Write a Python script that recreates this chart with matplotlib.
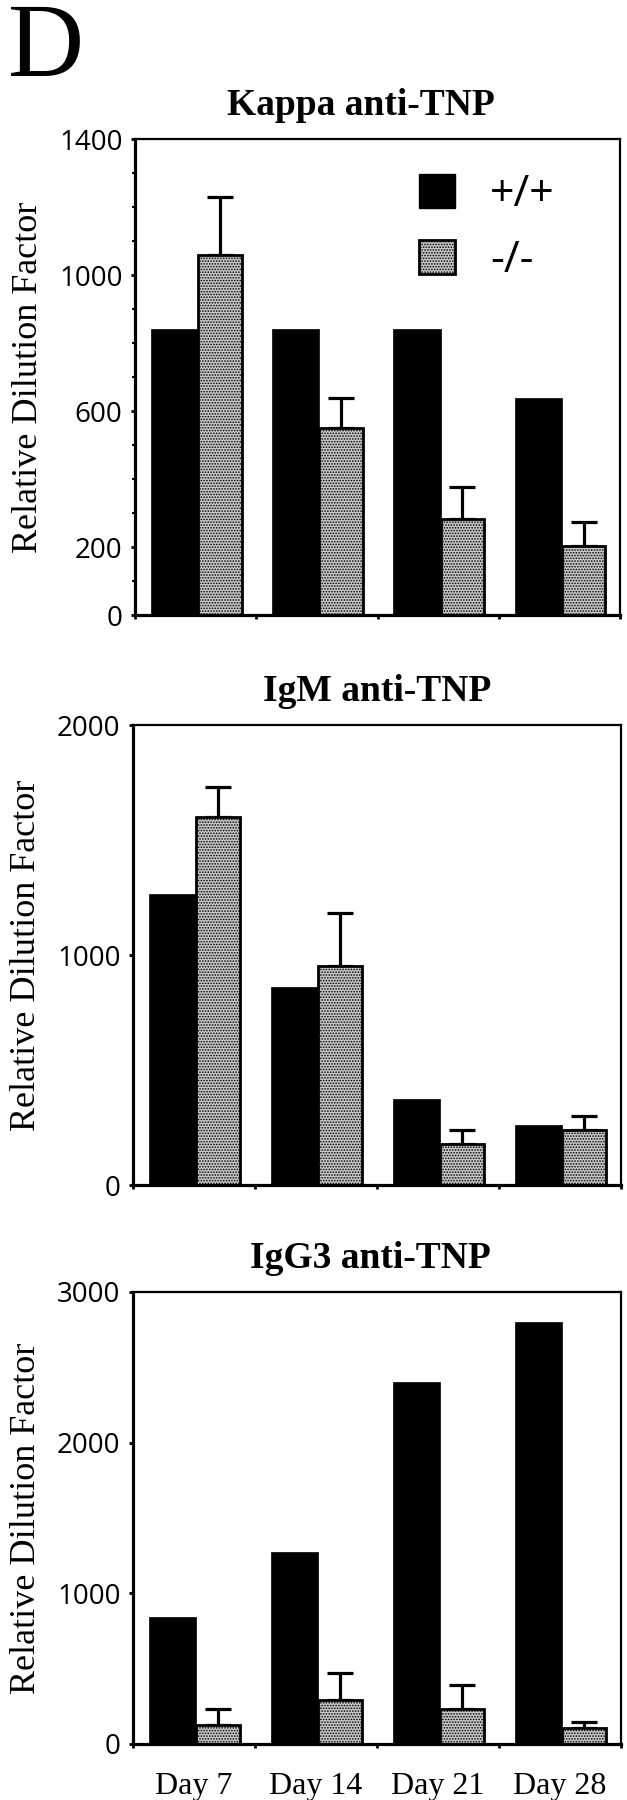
import matplotlib
matplotlib.use("Agg")
import matplotlib.pyplot as plt
from matplotlib.patches import Patch
from matplotlib.ticker import MultipleLocator, FixedLocator
import numpy as np

# ---------------- data ----------------
days = ["Day 7", "Day 14", "Day 21", "Day 28"]
genotypes = ["+/+", "-/-"]

titles = ["Kappa anti-TNP", "IgM anti-TNP", "IgG3 anti-TNP"]

kappa_wt = [840, 840, 840, 637]
kappa_ko = [1058, 550, 282, 204]
kappa_ko_err = [171, 87, 94, 69]

igm_wt = [1265, 860, 372, 262]
igm_ko = [1600, 952, 180, 240]
igm_ko_err = [130, 231, 57, 58]

igg3_wt = [845, 1272, 2400, 2800]
igg3_ko = [128, 292, 232, 108]
igg3_ko_err = [107, 178, 158, 37]

ylims = [1400, 2000, 3000]
yticks_major = [[0, 200, 600, 1000, 1400], [0, 1000, 2000], [0, 1000, 2000, 3000]]
yticks_minor = [100, None, None]

# ---------------- style ----------------
SERIF = ["Liberation Serif", "DejaVu Serif"]
SANS = ["Open Sans", "DejaVu Sans"]
plt.rcParams["font.family"] = SANS
plt.rcParams["hatch.linewidth"] = 0.8
plt.rcParams["hatch.color"] = "black"
KO_FACE = "#c9c9c9"
KO_HATCH = "......"

W, H = 627, 1800
fig = plt.figure(figsize=(W / 100, H / 100), dpi=100)

# axes boxes in pixels: left, top, right, bottom
boxes = [(135, 139, 620, 615), (133, 725, 621, 1185), (133, 1292, 621, 1744)]
title_x = [0.466, 0.5, 0.487]

panels = [
    (kappa_wt, kappa_ko, kappa_ko_err),
    (igm_wt, igm_ko, igm_ko_err),
    (igg3_wt, igg3_ko, igg3_ko_err),
]

x = np.arange(len(days))
wt_off, wt_w = 0.13, 0.39
ko_off, ko_w = 0.52, 0.36

for k, ((wt, ko, err), (l, t, r, b)) in enumerate(zip(panels, boxes)):
    ax = fig.add_axes([l / W, 1 - b / H, (r - l) / W, (b - t) / H])
    ax.bar(x + wt_off, wt, width=wt_w, align="edge", color="black",
           edgecolor="black", linewidth=0.5, zorder=2)
    ax.bar(x + ko_off, ko, width=ko_w, align="edge", facecolor=KO_FACE,
           edgecolor="black", hatch=KO_HATCH, linewidth=2.0, zorder=2)
    ax.errorbar(x + ko_off + ko_w / 2, ko, yerr=[np.zeros(len(err)), err],
                fmt="none", ecolor="black", elinewidth=2.3, capsize=9.5,
                capthick=2.3, zorder=1)

    ax.set_xlim(0, len(days))
    ax.set_ylim(0, ylims[k])

    for side in ["left", "bottom"]:
        ax.spines[side].set_linewidth(2.3)
    for side in ["top", "right"]:
        ax.spines[side].set_linewidth(1.6)

    ax.yaxis.set_major_locator(FixedLocator(yticks_major[k]))
    if yticks_minor[k]:
        ax.yaxis.set_minor_locator(MultipleLocator(yticks_minor[k]))
    ax.tick_params(axis="y", which="major", direction="out", length=3,
                   width=2, pad=6, labelsize=20)
    ax.tick_params(axis="y", which="minor", direction="out", length=2, width=1.5)

    ax.xaxis.set_major_locator(FixedLocator(list(range(len(days) + 1))))
    ax.tick_params(axis="x", which="major", direction="out", length=3,
                   width=2, labelbottom=False)
    if k == 2:
        ax.xaxis.set_minor_locator(FixedLocator(list(x + 0.5)))
        ax.set_xticklabels(days, minor=True, family=SERIF)
        ax.tick_params(axis="x", which="minor", length=0, pad=20, labelsize=23)

    ax.set_title(titles[k], family=SERIF, fontweight="bold", fontsize=27,
                 pad=17, x=title_x[k])
    ax.set_ylabel("Relative Dilution Factor", family=SERIF, fontsize=26)
    ax.yaxis.set_label_coords(-0.185, 0.5)

    if k == 0:
        handles = [Patch(facecolor="black", edgecolor="black", linewidth=1),
                   Patch(facecolor=KO_FACE, edgecolor="black", hatch=KO_HATCH,
                         linewidth=2.0)]
        ax.legend(handles, genotypes, loc="upper left",
                  bbox_to_anchor=(0.585, 0.93), frameon=False,
                  handlelength=0.85, handleheight=0.85,
                  handletextpad=0.8, labelspacing=0.5,
                  borderpad=0, borderaxespad=0,
                  prop={"family": SANS, "size": 31})

fig.text(8 / W, 1 - 2 / H, "D", family=SERIF, fontsize=76, va="top", ha="left")

fig.savefig("out.png", dpi=100)
